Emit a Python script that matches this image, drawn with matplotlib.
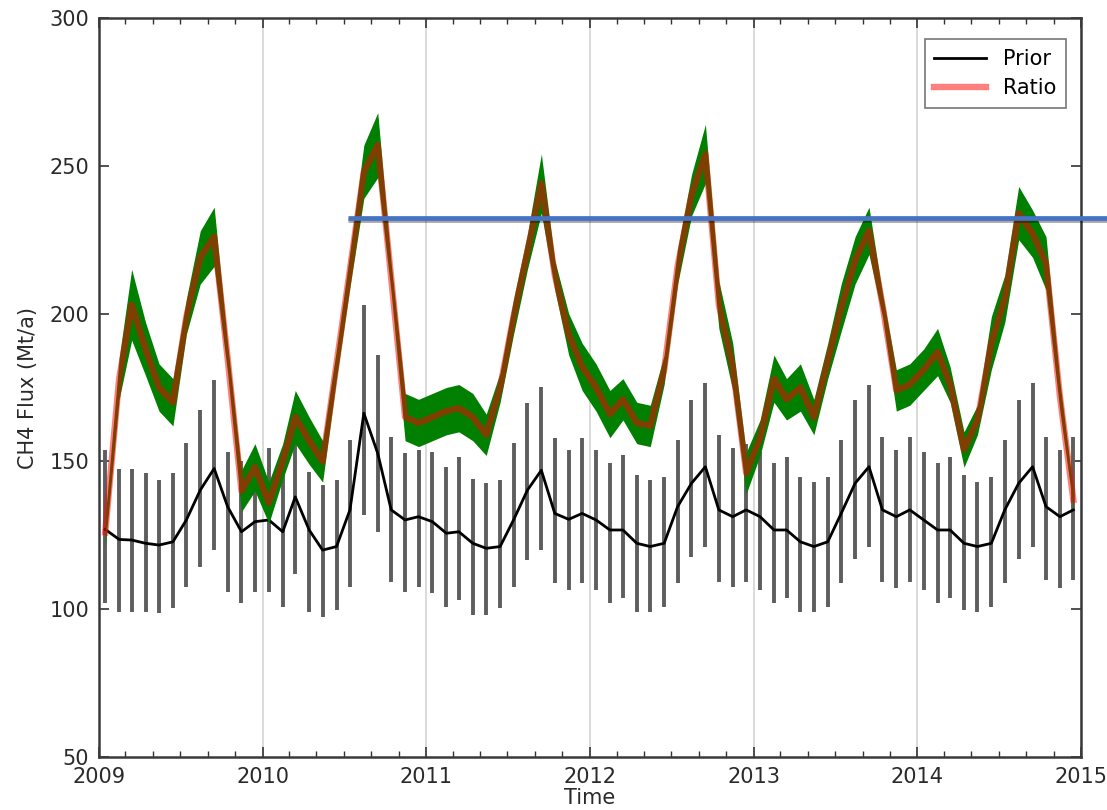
import numpy as np
import pandas as pd
import matplotlib
matplotlib.use("Agg")
import matplotlib.pyplot as plt
import matplotlib.dates as mdates
import matplotlib.patheffects as pe

# Monthly samples (mid-month), Jan 2009 - Dec 2014
months = pd.date_range("2009-01-01", periods=72, freq="MS") + pd.Timedelta(days=14)

# Prior CH4 flux (Mt/a) with its uncertainty range
prior = [127.0, 123.6, 123.4, 122.3, 121.7, 122.8, 130.2, 140.3, 147.6, 134.7, 126.2, 129.6,
         130.2, 126.2, 138.0, 126.8, 120.0, 121.2, 133.6, 166.3, 152.7, 133.6, 130.2, 131.3,
         129.6, 125.7, 126.2, 122.3, 120.6, 121.2, 130.2, 140.3, 147.0, 132.4, 130.4, 132.4,
         130.2, 126.8, 126.8, 122.3, 121.2, 122.3, 134.7, 142.6, 148.2, 133.6, 131.3, 133.6,
         131.3, 126.8, 126.8, 122.8, 121.2, 122.8, 132.4, 142.6, 148.2, 133.6, 131.3, 133.6,
         130.2, 126.8, 126.8, 122.3, 121.2, 122.3, 133.6, 142.6, 148.2, 134.7, 131.3, 133.6]
prior_low = [102.0, 99.2, 99.2, 99.2, 98.6, 100.3, 107.6, 114.4, 120.0, 105.9, 102.0, 105.9,
             105.9, 100.9, 112.0, 99.2, 97.5, 99.7, 107.6, 131.9, 126.2, 109.3, 105.9, 107.6,
             105.4, 100.9, 103.1, 98.0, 98.0, 100.3, 107.6, 116.6, 120.0, 108.7, 106.5, 108.7,
             106.5, 102.0, 103.7, 99.2, 99.2, 100.9, 108.7, 117.8, 121.2, 109.3, 107.6, 109.3,
             106.5, 102.0, 103.7, 99.2, 99.2, 100.9, 108.7, 117.1, 121.2, 109.3, 107.1, 109.3,
             106.5, 102.0, 103.7, 99.7, 99.2, 100.6, 108.7, 117.1, 121.2, 109.9, 107.1, 109.9]
prior_high = [154.0, 147.6, 147.6, 146.0, 143.7, 146.0, 156.1, 167.4, 177.5, 153.3, 150.0, 153.9,
              154.4, 149.3, 160.0, 146.5, 142.0, 143.7, 157.2, 202.9, 186.0, 158.4, 152.7, 153.9,
              153.3, 148.2, 151.6, 144.2, 142.6, 143.7, 156.1, 169.7, 175.3, 157.8, 153.9, 157.8,
              153.9, 149.3, 152.2, 145.4, 143.7, 144.8, 157.2, 170.8, 176.4, 158.9, 154.4, 156.0,
              153.3, 149.3, 151.6, 144.8, 143.1, 144.8, 157.2, 170.8, 175.8, 158.4, 153.9, 158.4,
              153.3, 149.3, 151.6, 145.4, 143.1, 144.8, 157.2, 170.8, 176.4, 158.4, 153.9, 158.4]

# Ratio-method estimate and the half-width of its ensemble spread
ratio = [126, 178, 203, 188, 175, 170, 199, 219, 226, 185, 140, 148,
         136, 150, 165, 157, 150, 183, 215, 248, 257, 212, 165, 163,
         165, 167, 168, 165, 159, 175, 199, 221, 244, 213, 193, 182,
         175, 166, 171, 163, 162, 181, 216, 240, 254, 203, 182, 146,
         158, 178, 171, 175, 165, 184, 202, 218, 228, 203, 174, 176,
         181, 187, 176, 154, 164, 190, 205, 234, 227, 217, 172, 137]
ratio_spread = [5, 7, 12, 9, 8, 8, 6, 9, 10, 5, 7, 8,
                7, 6, 9, 8, 7, 5, 6, 9, 11, 5, 8, 8,
                8, 8, 8, 8, 7, 5, 6, 6, 10, 5, 7, 8,
                8, 8, 7, 7, 7, 5, 6, 7, 10, 8, 8, 7,
                6, 8, 7, 8, 6, 6, 8, 8, 8, 4, 7, 7,
                7, 8, 6, 6, 5, 9, 8, 9, 8, 9, 5, 3]

year_ticks = [2009, 2010, 2011, 2012, 2013, 2014, 2015]
y_ticks = [50, 100, 150, 200, 250, 300]

# Reference level marked across the upper part of the plot
threshold_value = 232.3
threshold_start = "2010-07-10"
threshold_end = "2015-03-01"

prior = np.array(prior)
ratio = np.array(ratio, dtype=float)
ratio_spread = np.array(ratio_spread, dtype=float)

fig = plt.figure(figsize=(11.07, 8.10), dpi=100)
ax = fig.add_axes([0.0894, 0.0654, 0.9765 - 0.0894, 0.9778 - 0.0654])

ax.errorbar(months, prior,
            yerr=[prior - np.array(prior_low), np.array(prior_high) - prior],
            fmt="none", ecolor="#5e5e5e", elinewidth=2.8, capsize=0, zorder=2)
ax.plot(months, prior, color="black", lw=2.0, label="Prior", zorder=3)

ax.fill_between(months, ratio - ratio_spread, ratio + ratio_spread,
                color="#007f00", lw=0, zorder=4)
ax.plot(months, ratio, color="red", alpha=0.5, lw=4.6, label="Ratio", zorder=5)

ax.hlines(threshold_value, pd.Timestamp(threshold_start), pd.Timestamp(threshold_end),
          colors="#4472c4", lw=3.4, clip_on=False, zorder=10,
          path_effects=[pe.SimpleLineShadow(offset=(0, -1.5), alpha=0.35), pe.Normal()])

ax.set_xlim(pd.Timestamp("2009-01-01"), pd.Timestamp("2015-01-01"))
ax.set_ylim(50, 300)
ax.set_xticks([pd.Timestamp(f"{y}-01-01") for y in year_ticks])
ax.xaxis.set_major_formatter(mdates.DateFormatter("%Y"))
ax.xaxis.set_minor_locator(mdates.MonthLocator(interval=2))
ax.set_yticks(y_ticks)

ax.grid(axis="x", which="major", color="#d4d4d4", lw=1.2, ls="-", zorder=0)
ax.set_axisbelow(True)

ax.tick_params(which="both", direction="in", top=True, right=True,
               labelsize=15, labelcolor="#2a2a2a", color="#333333")
ax.tick_params(which="major", length=7, width=1.2, pad=7)
ax.tick_params(which="minor", length=4, width=1.0)
for s in ax.spines.values():
    s.set_color("#3a3a3a")
    s.set_linewidth(1.8)

ax.set_xlabel("Time", fontsize=15, color="#2a2a2a", labelpad=1)
ax.set_ylabel("CH4 Flux (Mt/a)", fontsize=15, color="#2a2a2a", labelpad=8)

leg = ax.legend(loc="upper right", fontsize=15, handlelength=2.5,
                borderpad=0.45, labelspacing=0.45, fancybox=False,
                bbox_to_anchor=(0.995, 0.985))
leg.get_frame().set_edgecolor("#555555")
leg.get_frame().set_linewidth(1.2)

fig.savefig("out.png", dpi=100)
